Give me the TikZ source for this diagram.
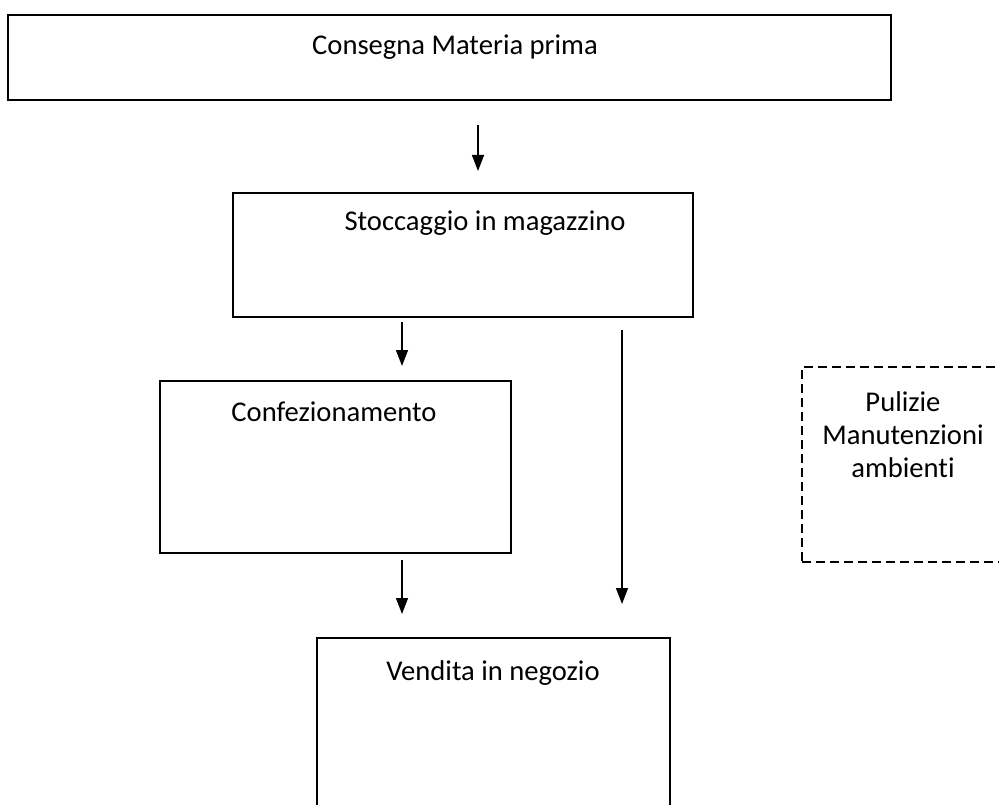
\documentclass[tikz,border=0pt]{standalone}
\usepackage{fontspec}
\setmainfont[Ligatures={NoCommon}]{Carlito}
\usetikzlibrary{arrows.meta}
\begin{document}
\begin{tikzpicture}[x=1pt,y=-1pt,
  box/.style={draw=black, line width=1.6pt, inner sep=0pt},
  dbox/.style={draw=black, line width=1.4pt, dash pattern=on 9pt off 5pt, inner sep=0pt},
  lbl/.style={font=\fontsize{28.6}{33}\selectfont, align=center, inner sep=0pt, anchor=center},
  arr/.style={line width=1.4pt, -{Triangle[width=12pt,length=16pt]}}]
\useasboundingbox (0,0) rectangle (999,805);
\clip (0,0) rectangle (999,805);
% boxes
\node[box, minimum width=883pt, minimum height=85pt] (b1) at (449.5,57.5) {};
\node[box, minimum width=460pt, minimum height=124pt] (b2) at (463,255) {};
\node[box, minimum width=351pt, minimum height=172pt] (b3) at (335.5,467) {};
\node[box, minimum width=353pt, minimum height=200pt] (b4) at (493.5,738) {};
\node[dbox, minimum width=230pt, minimum height=195pt] (b5) at (917,464.5) {};
% texts
\node[lbl] (t1) at (455,47) {Consegna Materia prima};
\node[lbl] (t2) at (485,223) {Stoccaggio in magazzino};
\node[lbl] (t3) at (334,412) {Confezionamento};
\node[lbl] (t4) at (493,673) {Vendita in negozio};
\node[lbl] (t5) at (903,435) {Pulizie\\Manutenzioni\\ambienti};
% arrow end points
\coordinate (a1s) at (478,125); \coordinate (a1e) at (478,171);
\coordinate (a2s) at (402,322); \coordinate (a2e) at (402,366);
\coordinate (a3s) at (402,560); \coordinate (a3e) at (402,614);
\coordinate (a4s) at (622,330); \coordinate (a4e) at (622,604);
\draw[arr] (a1s) -- (a1e);
\draw[arr] (a2s) -- (a2e);
\draw[arr] (a3s) -- (a3e);
\draw[arr] (a4s) -- (a4e);
\end{tikzpicture}
\end{document}
